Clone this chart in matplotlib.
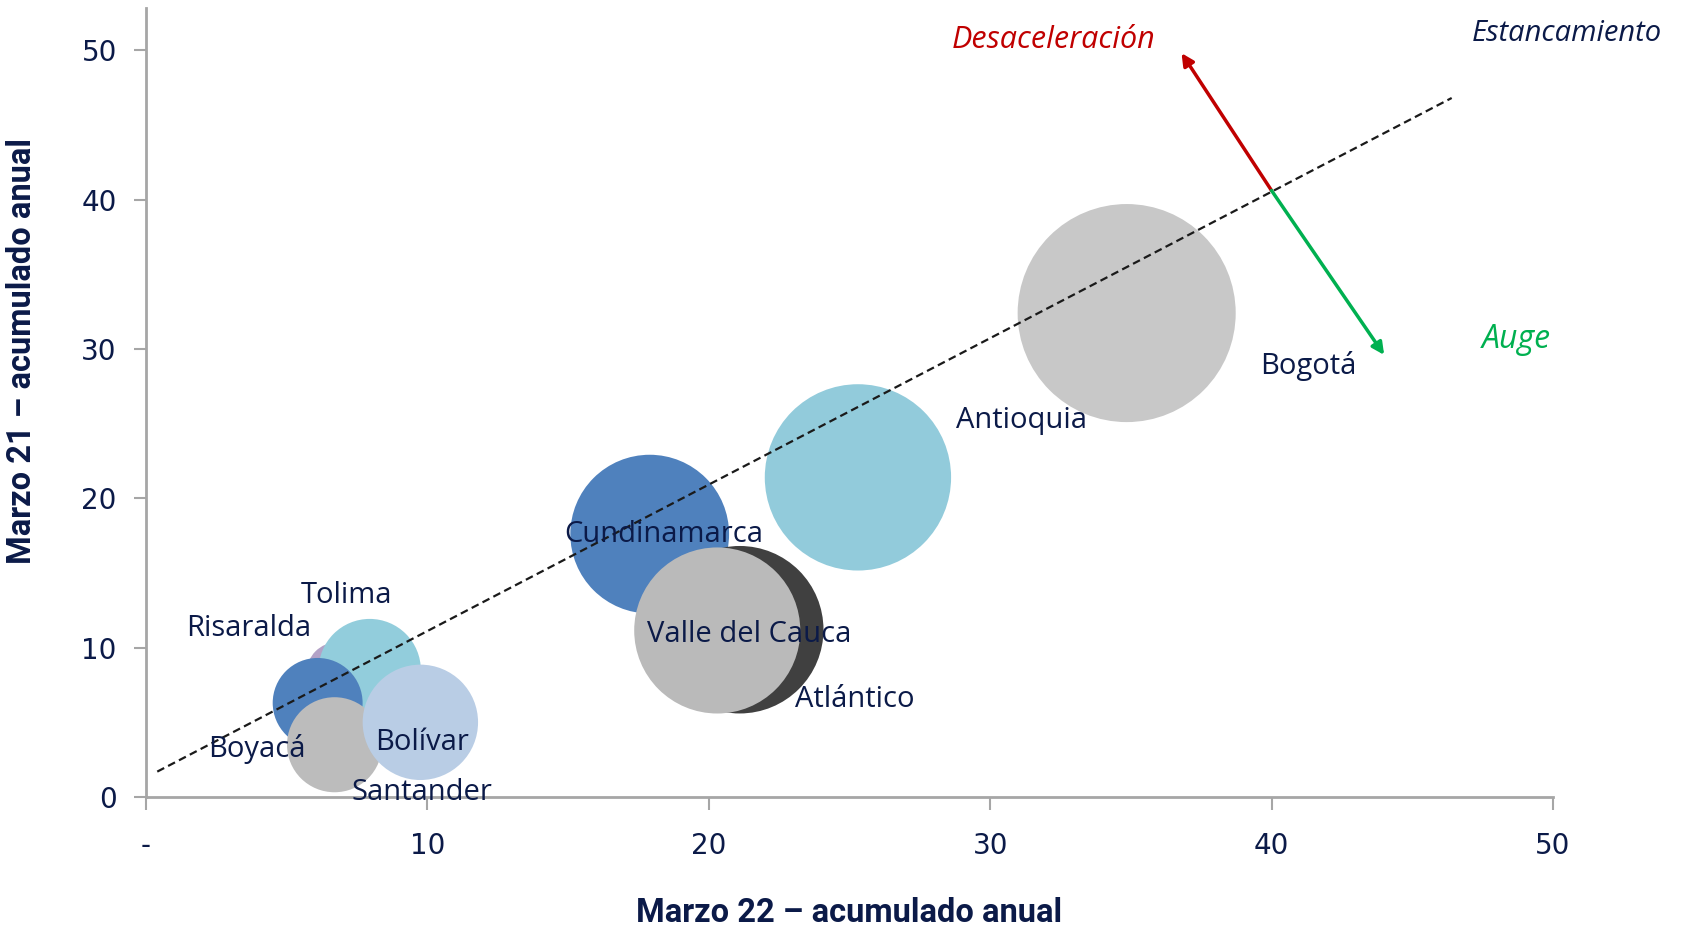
import matplotlib
matplotlib.use("Agg")
import matplotlib.pyplot as plt

# departamentos (orden de dibujo: los de atras primero)
deptos = ["Bogotá", "Antioquia", "Cundinamarca", "Atlántico", "Valle del Cauca",
          "Risaralda", "Tolima", "Boyacá", "Santander", "Bolívar"]
marzo22 = [34.85, 25.3, 17.9, 21.1, 20.3, 6.8, 7.95, 6.1, 6.7, 9.75]
marzo21 = [32.4, 21.4, 17.6, 11.2, 11.15, 8.3, 8.5, 6.3, 3.5, 5.0]
peso = [100, 73, 53, 59, 58, 8, 22, 17, 19, 28]
colores = ["#C8C8C8", "#92CBDB", "#4F81BD", "#404040", "#BABABA",
           "#B3A2C7", "#92CDDC", "#4F81BD", "#BCBCBC", "#B9CDE5"]

# posicion de las etiquetas
lab_x = [41.3, 31.1, 18.4, 25.2, 21.45, 3.66, 7.14, 3.93, 9.8, 9.8]
lab_y = [28.85, 25.2, 17.6, 6.55, 10.9, 11.3, 13.5, 3.24, 0.29, 3.67]

diag_x = [0.4, 46.4]
diag_y = [1.7, 46.8]

xticks = [0, 10, 20, 30, 40, 50]
xtick_labels = ["-", "10", "20", "30", "40", "50"]
yticks = [0, 10, 20, 30, 40, 50]

navy = "#0B1A48"
font = "Open Sans"

fig = plt.figure(figsize=(16.84, 9.30), dpi=100)
ax = fig.add_axes([0.0867, 0.143, 0.8355, 0.848])

ax.scatter(marzo22, marzo21, s=[p * 246.5 for p in peso], c=colores,
           edgecolors="none", zorder=2, clip_on=False)

ax.plot(diag_x, diag_y, linestyle="--", color="#1A1A1A", lw=1.6,
        dashes=(3.5, 2), zorder=3)

for name, x, y in zip(deptos, lab_x, lab_y):
    ax.text(x, y, name, ha="center", va="center", fontsize=21,
            family=font, color=navy, zorder=4)

# flechas
ax.annotate("", xy=(36.8, 49.8), xytext=(40.0, 40.6),
            arrowprops=dict(arrowstyle="-|>", color="#C00000", lw=2.5,
                            mutation_scale=18, shrinkA=0, shrinkB=0))
ax.annotate("", xy=(44.0, 29.6), xytext=(40.0, 40.6),
            arrowprops=dict(arrowstyle="-|>", color="#00B050", lw=2.5,
                            mutation_scale=18, shrinkA=0, shrinkB=0))

ax.text(32.25, 50.7, "Desaceleración", ha="center", va="center", fontsize=22,
        style="italic", family=font, color="#C00000")
ax.text(47.1, 51.1, "Estancamiento", ha="left", va="center", fontsize=21,
        style="italic", family=font, color=navy)
ax.text(48.7, 30.6, "Auge", ha="center", va="center", fontsize=23,
        style="italic", family=font, color="#00B050")

ax.set_xlim(0, 50)
ax.set_ylim(0, 52.8)
ax.set_xticks(xticks)
ax.set_xticklabels(xtick_labels)
ax.set_yticks(yticks)

for s in ["top", "right"]:
    ax.spines[s].set_visible(False)
for s in ["left", "bottom"]:
    ax.spines[s].set_color("#A6A6A6")
    ax.spines[s].set_linewidth(2)
ax.tick_params(axis="both", direction="out", length=9, width=1.5,
               color="#A6A6A6", labelsize=20, labelcolor=navy)
ax.tick_params(axis="x", pad=16)
ax.tick_params(axis="y", pad=12)

ax.set_xlabel("Marzo 22 – acumulado anual", fontsize=23.5, fontweight="bold",
              family="Roboto", color=navy)
ax.set_ylabel("Marzo 21 – acumulado anual", fontsize=23.5, fontweight="bold",
              family="Roboto", color=navy)
ax.xaxis.set_label_coords(0.5, -0.127)
ax.yaxis.set_label_coords(-0.077, 0.565)

fig.savefig("out.png", dpi=100)
